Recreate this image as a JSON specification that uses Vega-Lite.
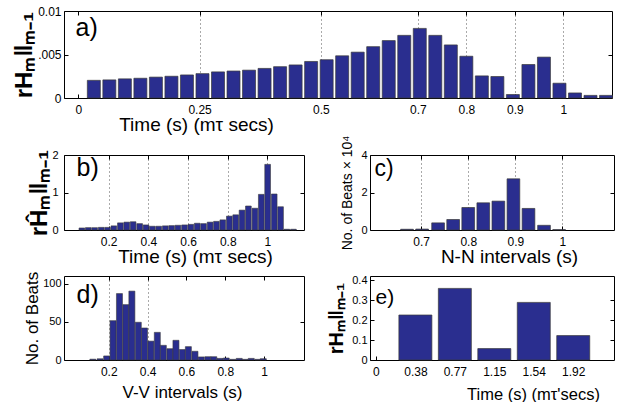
{
  "$schema": "https://vega.github.io/schema/vega-lite/v6.json",
  "padding": {"left": 12, "top": 5, "right": 0, "bottom": 0},
  "spacing": 57,
  "bounds": "flush",
  "datasets": {
    "a": [
      {"t": 0.032, "v": 0.00203}, {"t": 0.064, "v": 0.00208}, {"t": 0.096, "v": 0.0022}, {"t": 0.128, "v": 0.00227},
      {"t": 0.16, "v": 0.0024}, {"t": 0.192, "v": 0.0025}, {"t": 0.224, "v": 0.00265}, {"t": 0.256, "v": 0.0028},
      {"t": 0.288, "v": 0.003}, {"t": 0.32, "v": 0.0031}, {"t": 0.352, "v": 0.0032}, {"t": 0.384, "v": 0.0034},
      {"t": 0.416, "v": 0.0036}, {"t": 0.448, "v": 0.0038}, {"t": 0.48, "v": 0.0042}, {"t": 0.512, "v": 0.0044},
      {"t": 0.544, "v": 0.00485}, {"t": 0.576, "v": 0.00527}, {"t": 0.608, "v": 0.0059}, {"t": 0.64, "v": 0.0066},
      {"t": 0.672, "v": 0.0072}, {"t": 0.704, "v": 0.008}, {"t": 0.736, "v": 0.0072}, {"t": 0.768, "v": 0.0061},
      {"t": 0.8, "v": 0.0048}, {"t": 0.832, "v": 0.00254}, {"t": 0.864, "v": 0.00247}, {"t": 0.896, "v": 0.0004},
      {"t": 0.928, "v": 0.00385}, {"t": 0.96, "v": 0.0047}, {"t": 0.992, "v": 0.0017}, {"t": 1.024, "v": 0.00058},
      {"t": 1.056, "v": 0.0003}, {"t": 1.088, "v": 0.0003}
    ],
    "b": [
      {"t": 0.065, "v": 0.054}, {"t": 0.097, "v": 0.063}, {"t": 0.129, "v": 0.063}, {"t": 0.162, "v": 0.07},
      {"t": 0.194, "v": 0.07}, {"t": 0.226, "v": 0.11}, {"t": 0.259, "v": 0.19}, {"t": 0.291, "v": 0.21},
      {"t": 0.323, "v": 0.22}, {"t": 0.356, "v": 0.17}, {"t": 0.388, "v": 0.135}, {"t": 0.42, "v": 0.1},
      {"t": 0.452, "v": 0.1}, {"t": 0.485, "v": 0.11}, {"t": 0.517, "v": 0.117}, {"t": 0.549, "v": 0.126},
      {"t": 0.582, "v": 0.135}, {"t": 0.614, "v": 0.15}, {"t": 0.646, "v": 0.18}, {"t": 0.678, "v": 0.17},
      {"t": 0.711, "v": 0.21}, {"t": 0.743, "v": 0.23}, {"t": 0.775, "v": 0.27}, {"t": 0.808, "v": 0.37},
      {"t": 0.84, "v": 0.405}, {"t": 0.872, "v": 0.53}, {"t": 0.904, "v": 0.64}, {"t": 0.937, "v": 0.58},
      {"t": 0.969, "v": 0.95}, {"t": 1.001, "v": 1.75}, {"t": 1.034, "v": 0.96}, {"t": 1.066, "v": 0.62},
      {"t": 1.098, "v": 0.02}, {"t": 1.131, "v": 0.02}
    ],
    "c": [
      {"t": 0.67, "v": 0.04}, {"t": 0.702, "v": 0.05}, {"t": 0.736, "v": 0.38}, {"t": 0.768, "v": 0.56},
      {"t": 0.8, "v": 1.2}, {"t": 0.832, "v": 1.45}, {"t": 0.864, "v": 1.54}, {"t": 0.896, "v": 2.73},
      {"t": 0.928, "v": 1.15}, {"t": 0.961, "v": 0.25}, {"t": 0.993, "v": 0.02}
    ],
    "d": [
      {"t": 0.118, "v": 1.07}, {"t": 0.155, "v": 1.6}, {"t": 0.189, "v": 5.3}, {"t": 0.222, "v": 51.5},
      {"t": 0.255, "v": 87}, {"t": 0.288, "v": 72.5}, {"t": 0.319, "v": 90.2}, {"t": 0.352, "v": 49.4},
      {"t": 0.384, "v": 41.9}, {"t": 0.417, "v": 24.7}, {"t": 0.45, "v": 36.2}, {"t": 0.481, "v": 19.2},
      {"t": 0.515, "v": 14.8}, {"t": 0.546, "v": 25.8}, {"t": 0.579, "v": 13.7}, {"t": 0.61, "v": 17.5},
      {"t": 0.644, "v": 11.4}, {"t": 0.676, "v": 4}, {"t": 0.71, "v": 4.3}, {"t": 0.741, "v": 4.3},
      {"t": 0.773, "v": 2.1}, {"t": 0.805, "v": 2.6}, {"t": 0.839, "v": 0.86}, {"t": 0.872, "v": 2.1},
      {"t": 0.903, "v": 0.86}, {"t": 0.934, "v": 2.1}, {"t": 0.968, "v": 0.86}, {"t": 0.996, "v": 1.7}
    ],
    "e": [
      {"t": 0.384, "v": 0.225}, {"t": 0.768, "v": 0.358}, {"t": 1.152, "v": 0.057},
      {"t": 1.536, "v": 0.288}, {"t": 1.92, "v": 0.122}
    ]
  },
  "vconcat": [
    {
      "width": 548, "height": 87,
      "data": {"name": "a"},
      "layer": [
        {
          "mark": {"type": "bar", "orient": "vertical", "size": 13, "fill": "#2A2E8F", "stroke": "#3a3a3a", "strokeWidth": 0.7},
          "encoding": {
            "x": {"field": "t", "type": "quantitative", "scale": {"domain": [-0.0192, 1.09], "nice": false, "zero": false},
              "axis": {"values": [0, 0.25, 0.5, 0.7, 0.8, 0.9, 1], "labelExpr": "'' + datum.value", "grid": true,
                "gridOpacity": {"condition": {"test": "datum.value == 0", "value": 0}, "value": 1},
                "title": "Time (s) (mτ secs)", "titleFontSize": 19, "titleFontWeight": "normal", "titleX": 132, "titleY": 32, "titleBaseline": "alphabetic"}},
            "y": {"field": "v", "type": "quantitative", "scale": {"domain": [0, 0.01], "nice": false},
              "axis": {"values": [0, 0.005, 0.01], "labelExpr": "datum.value == 0 ? '0' : (datum.value < 0.008 ? '.005' : '0.01')",
                "title": "rHₘ‖ₘ₋₁", "titleFontSize": 24, "titleFontWeight": "bold", "titlePadding": 1}}
          }
        },
        {
          "mark": {"type": "bar", "orient": "vertical", "size": 13, "opacity": 0},
          "encoding": {
            "x": {"field": "t", "type": "quantitative", "axis": {"orient": "top", "values": [0, 0.25, 0.5, 0.7, 0.8, 0.9, 1], "labels": false,
              "title": "a)", "titleX": 11, "titleY": 24, "titleFontSize": 25}},
            "y": {"field": "v", "type": "quantitative", "axis": {"orient": "right", "values": [0.005], "labels": false, "title": null}}
          }
        }
      ],
      "resolve": {"axis": {"x": "independent", "y": "independent"}}
    },
    {
      "columns": 2,
      "align": "each",
      "bounds": "flush",
      "spacing": {"row": 46, "column": 66},
      "concat": [
        {
          "width": 240, "height": 75,
          "data": {"name": "b"},
          "layer": [
            {
              "mark": {"type": "bar", "orient": "vertical", "size": 5.7, "fill": "#2A2E8F", "stroke": "#3a3a3a", "strokeWidth": 0.6},
              "encoding": {
                "x": {"field": "t", "type": "quantitative", "scale": {"domain": [0, 1.159], "nice": false, "zero": false},
                  "axis": {"values": [0.2, 0.4, 0.6, 0.8, 1], "labelExpr": "'' + datum.value", "grid": true,
                    "title": "Time (s) (mτ secs)", "titleFontSize": 19, "titleFontWeight": "normal", "titleX": 131, "titleY": 32, "titleBaseline": "alphabetic"}},
                "y": {"field": "v", "type": "quantitative", "scale": {"domain": [0, 2], "nice": false},
                  "axis": {"values": [0, 1, 2], "labelExpr": "'' + datum.value", "labelFontSize": 11, "labelPadding": 10, "title": "rĤₘ‖ₘ₋₁", "titleFontSize": 24, "titleFontWeight": "bold", "titlePadding": 0}}
              }
            },
            {
              "mark": {"type": "bar", "orient": "vertical", "size": 5.7, "opacity": 0},
              "encoding": {
                "x": {"field": "t", "type": "quantitative", "axis": {"orient": "top", "values": [0.2, 0.4, 0.6, 0.8, 1], "labels": false,
                  "title": "b)", "titleX": 12, "titleY": 20, "titleFontSize": 25}},
                "y": {"field": "v", "type": "quantitative", "axis": {"orient": "right", "values": [1], "labels": false, "title": null}}
              }
            }
          ],
          "resolve": {"axis": {"x": "independent", "y": "independent"}}
        },
        {
          "width": 244, "height": 75,
          "data": {"name": "c"},
          "layer": [
            {
              "mark": {"type": "bar", "orient": "vertical", "size": 12.7, "fill": "#2A2E8F", "stroke": "#3a3a3a", "strokeWidth": 0.7},
              "encoding": {
                "x": {"field": "t", "type": "quantitative", "scale": {"domain": [0.602, 1.099], "nice": false, "zero": false},
                  "axis": {"values": [0.7, 0.8, 0.9, 1], "labelExpr": "'' + datum.value", "grid": true,
                    "title": "N-N intervals (s)", "titleFontSize": 19, "titleFontWeight": "normal", "titleX": 139, "titleY": 32, "titleBaseline": "alphabetic"}},
                "y": {"field": "v", "type": "quantitative", "scale": {"domain": [0, 4], "nice": false},
                  "axis": {"values": [0, 2, 4], "labelExpr": "'' + datum.value", "labelFontSize": 11, "title": "No. of Beats × 10⁴", "titleFontSize": 14, "titleFontWeight": "normal", "titlePadding": 6}}
              }
            },
            {
              "mark": {"type": "bar", "orient": "vertical", "size": 12.7, "opacity": 0},
              "encoding": {
                "x": {"field": "t", "type": "quantitative", "axis": {"orient": "top", "values": [0.7, 0.8, 0.9, 1], "labels": false,
                  "title": "c)", "titleX": 4, "titleY": 20, "titleFontSize": 23}},
                "y": {"field": "v", "type": "quantitative", "axis": {"orient": "right", "values": [2], "labels": false, "title": null}}
              }
            }
          ],
          "resolve": {"axis": {"x": "independent", "y": "independent"}}
        },
        {
          "width": 240, "height": 84,
          "data": {"name": "d"},
          "layer": [
            {
              "mark": {"type": "bar", "orient": "vertical", "size": 6, "fill": "#2A2E8F", "stroke": "#3a3a3a", "strokeWidth": 0.6},
              "encoding": {
                "x": {"field": "t", "type": "quantitative", "scale": {"domain": [-0.005, 1.18], "nice": false, "zero": false},
                  "axis": {"values": [0.2, 0.4, 0.6, 0.8, 1], "labelExpr": "'' + datum.value", "grid": true,
                    "gridOpacity": {"condition": {"test": "datum.value > 0.5", "value": 0}, "value": 1},
                    "title": "V-V intervals (s)", "titleFontSize": 17, "titleFontWeight": "normal", "titleX": 118, "titleY": 37, "titleBaseline": "alphabetic"}},
                "y": {"field": "v", "type": "quantitative", "scale": {"domain": [0, 110], "nice": false},
                  "axis": {"values": [0, 50, 100], "labelExpr": "'' + datum.value", "labelFontSize": 11, "title": "No. of Beats", "titleFontSize": 17, "titleFontWeight": "normal", "titlePadding": 1}}
              }
            },
            {
              "mark": {"type": "bar", "orient": "vertical", "size": 6, "opacity": 0},
              "encoding": {
                "x": {"field": "t", "type": "quantitative", "axis": {"orient": "top", "values": [0.2, 0.4, 0.6, 0.8, 1], "labels": false,
                  "title": "d)", "titleX": 12, "titleY": 26, "titleFontSize": 25}},
                "y": {"field": "v", "type": "quantitative", "axis": {"orient": "right", "values": [50], "labels": false, "title": null}}
              }
            }
          ],
          "resolve": {"axis": {"x": "independent", "y": "independent"}}
        },
        {
          "width": 244, "height": 84,
          "data": {"name": "e"},
          "layer": [
            {
              "mark": {"type": "bar", "orient": "vertical", "size": 33, "fill": "#2A2E8F", "stroke": "#3a3a3a", "strokeWidth": 0.7},
              "encoding": {
                "x": {"field": "t", "type": "quantitative", "scale": {"domain": [-0.009, 2.268], "nice": false, "zero": false},
                  "axis": {"values": [0, 0.384, 0.768, 1.152, 1.536, 1.92], "labelExpr": "datum.value == 0 ? '0' : format(datum.value, '.2f')",
                    "title": "Time (s) (mτ'secs)", "titleFontSize": 16.5, "titleFontWeight": "normal", "titleX": 163, "titleY": 39, "titleBaseline": "alphabetic"}},
                "y": {"field": "v", "type": "quantitative", "scale": {"domain": [0, 0.42], "nice": false},
                  "axis": {"values": [0, 0.1, 0.2, 0.3, 0.4], "labelExpr": "'' + datum.value", "labelFontSize": 11, "title": "rHₘ‖ₘ₋₁", "titleFontSize": 20, "titleFontWeight": "bold", "titlePadding": 5}}
              }
            },
            {
              "mark": {"type": "bar", "orient": "vertical", "size": 33, "opacity": 0},
              "encoding": {
                "x": {"field": "t", "type": "quantitative", "axis": {"orient": "top", "values": [], "ticks": false, "labels": false,
                  "title": "e)", "titleX": 5, "titleY": 27, "titleFontSize": 21}},
                "y": {"field": "v", "type": "quantitative", "axis": {"orient": "right", "values": [0.1, 0.2, 0.3], "labels": false, "title": null}}
              }
            }
          ],
          "resolve": {"axis": {"x": "independent", "y": "independent"}}
        }
      ]
    }
  ],
  "config": {
    "view": {"stroke": null},
    "font": "Liberation Sans",
    "axis": {
      "tickSize": -4, "tickColor": "black", "domainColor": "black", "labelColor": "black", "titleColor": "black",
      "labelFont": "Liberation Sans", "titleFont": "Liberation Sans", "labelFontSize": 12, "titleFontWeight": "normal",
      "grid": false, "gridDash": [1, 3], "gridColor": "#555", "domainWidth": 1, "tickWidth": 1
    },
    "axisBottom": {"labelPadding": 10},
    "axisLeft": {"labelPadding": 7},
    "axisTop": {"titleAngle": 0, "titleAlign": "left", "titleBaseline": "alphabetic", "titleFontWeight": "normal"}
  }
}
